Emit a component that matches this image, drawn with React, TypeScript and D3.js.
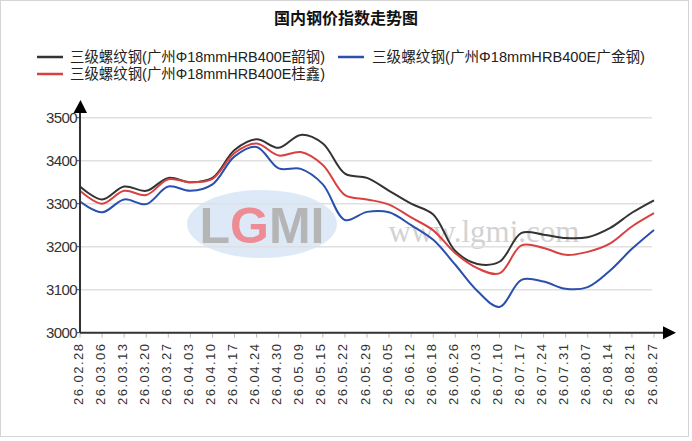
import * as d3 from "d3";

const dates = [
  "26.02.28", "26.03.06", "26.03.13", "26.03.20", "26.03.27", "26.04.03", "26.04.10",
  "26.04.17", "26.04.24", "26.04.30", "26.05.09", "26.05.15", "26.05.22", "26.05.29",
  "26.06.05", "26.06.12", "26.06.18", "26.06.26", "26.07.03", "26.07.10", "26.07.17",
  "26.07.24", "26.07.31", "26.08.07", "26.08.14", "26.08.21", "26.08.27",
];

// 韶钢
const shaogang = [
  3340, 3310, 3340, 3330, 3360, 3350, 3360, 3425, 3450, 3430, 3460, 3440, 3370, 3360,
  3330, 3300, 3275, 3190, 3160, 3165, 3232, 3228, 3220, 3222, 3243, 3279, 3308,
];
// 桂鑫
const guixin = [
  3330, 3300, 3330, 3320, 3357, 3350, 3358, 3418, 3440, 3412, 3420, 3390, 3320, 3310,
  3298, 3268, 3238, 3185, 3150, 3138, 3203, 3197, 3181, 3188, 3207, 3247, 3278,
];
// 广金
const guangjin = [
  3305, 3280, 3310, 3299, 3340, 3330, 3345, 3410, 3432, 3382, 3381, 3345, 3262, 3281,
  3280, 3250, 3216, 3158, 3097, 3060, 3123, 3119, 3102, 3106, 3144, 3195, 3239,
];

const yTicks = [3000, 3100, 3200, 3300, 3400, 3500];

const seriesNames = [
  "三级螺纹钢(广州Φ18mmHRB400E韶钢)",
  "三级螺纹钢(广州Φ18mmHRB400E广金钢)",
  "三级螺纹钢(广州Φ18mmHRB400E桂鑫)",
];

const W = 692;
const H = 441;
const FONT = "'Liberation Sans', Arial, 'Noto Sans CJK SC', sans-serif";

export default function App() {
  const x = d3.scalePoint<string>().domain(dates).range([80, 654]);
  const y = d3.scaleLinear().domain([3000, 3500]).range([332.7, 117.7]);

  const line = d3
    .line<number>()
    .x((_, i) => x(dates[i]) as number)
    .y((d) => y(d))
    .curve(d3.curveCatmullRom.alpha(0.5));

  const series = [
    { values: shaogang, color: "#333333" },
    { values: guixin, color: "#d94141" },
    { values: guangjin, color: "#2a4fae" },
  ];

  const legend = [
    { name: seriesNames[0], color: "#333333", sx: 37, tx: 70, ty: 57, len: 255 },
    { name: seriesNames[1], color: "#2a4fae", sx: 338, tx: 372, ty: 57, len: 273 },
    { name: seriesNames[2], color: "#d94141", sx: 37, tx: 70, ty: 74, len: 255 },
  ];

  const x0 = 80;
  const y0 = y(3000);

  return (
    <div style={{ position: "absolute", left: 0, top: 0 }}>
      <svg width={W} height={H} style={{ display: "block", fontFamily: FONT }}>
        <rect x={0} y={0} width={W} height={H} fill="#fff" />
        <rect x={0.5} y={0.5} width={688} height={436} fill="none" stroke="#d4d4d4" />

        <text x={346} y={24} textAnchor="middle" fontSize={16} fontWeight="bold" fill="#111">
          国内钢价指数走势图
        </text>

        {legend.map((l, i) => (
          <g key={i}>
            <line x1={l.sx} x2={l.sx + 26} y1={l.ty} y2={l.ty} stroke={l.color} strokeWidth={2.5} />
            <text
              x={l.tx}
              y={l.ty}
              dy="0.35em"
              fontSize={14.5}
              fill="#222"
              textLength={l.len}
              lengthAdjust="spacingAndGlyphs"
            >
              {l.name}
            </text>
          </g>
        ))}

        {/* watermark */}
        <ellipse cx={262} cy={224} rx={75} ry={34} fill="#d7e5f4" opacity={0.85} />
        <text x={262} y={243} textAnchor="middle" fontSize={50} fontWeight="bold" fill="#b5b5b5" fontFamily="'Liberation Sans', Arial">
          L<tspan fill="#ee8c96">G</tspan>MI
        </text>
        <text x={484} y={242} textAnchor="middle" fontSize={31} fill="#d2d2d2" fontFamily="'Liberation Serif', serif">
          www.lgmi.com
        </text>

        {/* grid */}
        {yTicks.map((t) => (
          <line key={t} x1={x0} x2={652} y1={y(t)} y2={y(t)} stroke="#e0e0e0" strokeWidth={1.5} />
        ))}

        {/* y labels */}
        {yTicks.map((t) => (
          <g key={"yl" + t}>
            <line x1={x0 - 3} x2={x0} y1={y(t)} y2={y(t)} stroke="#444" />
            <text
              x={77}
              y={y(t)}
              dy="0.36em"
              textAnchor="end"
              fontSize={15}
              letterSpacing={-0.6}
              fill="#333"
            >
              {t}
            </text>
          </g>
        ))}

        {/* x ticks + labels */}
        {dates.map((d) => (
          <g key={d}>
            <line x1={x(d)} x2={x(d)} y1={y0 + 1} y2={y0 + 5} stroke="#bbb" />
            <text
              transform={`translate(${(x(d) as number) + 2.5},344) rotate(-90)`}
              textAnchor="end"
              fontSize={13}
              fill="#333"
              textLength={61}
              lengthAdjust="spacing"
            >
              {d}
            </text>
          </g>
        ))}

        {/* series */}
        {series.map((s, i) => (
          <path key={i} d={line(s.values) || ""} fill="none" stroke={s.color} strokeWidth={2} />
        ))}

        {/* axes */}
        <line x1={x0} x2={x0} y1={y0} y2={112} stroke="#333" strokeWidth={2} />
        <path d={`M${x0 - 6.5},113L${x0 + 0.5},100L${x0 + 7},113Z`} fill="#000" />
        <line x1={x0} x2={663} y1={y0} y2={y0} stroke="#333" strokeWidth={2} />
        <path d={`M663,${y0 - 6.5}L676,${y0}L663,${y0 + 6.5}Z`} fill="#000" />
      </svg>
    </div>
  );
}
